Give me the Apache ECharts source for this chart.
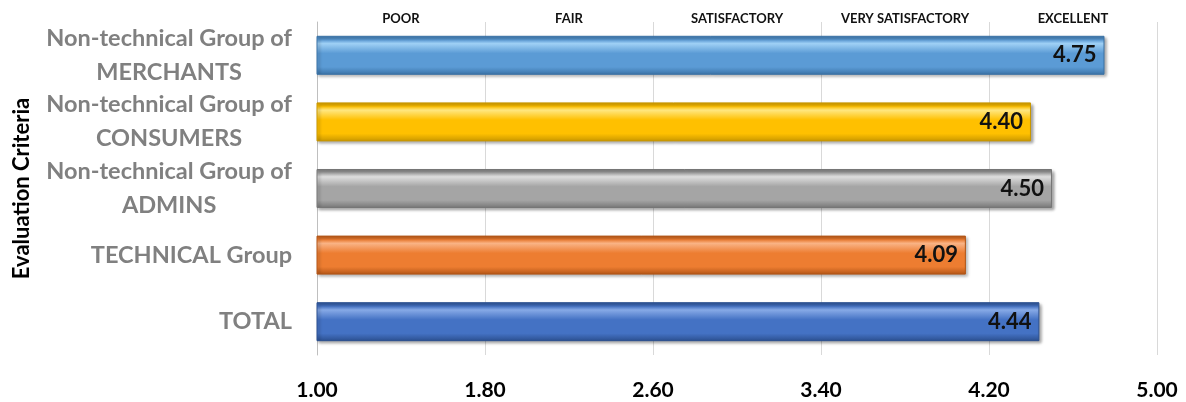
<!DOCTYPE html>
<html><head><meta charset="utf-8">
<script src="https://cdn.jsdelivr.net/npm/echarts@6/dist/echarts.min.js"></script>
<style>html,body{margin:0;padding:0;background:#fff}#c{width:1186px;height:402px}</style>
</head><body><div id="c"></div>
<script>
const categories = ["Non-technical Group of\nMERCHANTS","Non-technical Group of\nCONSUMERS","Non-technical Group of\nADMINS","TECHNICAL Group","TOTAL"];
const values = [4.75, 4.40, 4.50, 4.09, 4.44];
const barColors = [
  ["#9fd0f5","#5b9bd5","#3a72a6"],
  ["#ffe780","#ffc000","#c99700"],
  ["#dedede","#a5a5a5","#767676"],
  ["#f9b385","#ed7d31","#b35516"],
  ["#86a9e6","#4472c4","#2b4f8f"]
];
const ratingLabels = ["POOR","FAIR","SATISFACTORY","VERY SATISFACTORY","EXCELLENT"];
const axisName = "Evaluation Criteria";

const data = values.map((v,i)=>({
  value: v,
  itemStyle: {
    color: {type:'linear',x:0,y:0,x2:0,y2:1,colorStops:[
      {offset:0,color:barColors[i][2]},
      {offset:0.1,color:barColors[i][1]},
      {offset:0.2,color:barColors[i][0]},
      {offset:0.45,color:barColors[i][1]},
      {offset:0.8,color:barColors[i][1]},
      {offset:1,color:barColors[i][2]}
    ]},
    borderColor: barColors[i][2],
    borderWidth: 1,
    shadowColor:'rgba(0,0,0,0.35)', shadowBlur:3, shadowOffsetX:2, shadowOffsetY:2
  }
}));

const chart = echarts.init(document.getElementById('c'));
chart.setOption({
  animation:false,
  grid:{left:317,right:29,top:22,bottom:47,containLabel:false},
  xAxis:[{
    type:'value', min:1, max:5, interval:0.8,
    axisLine:{show:false}, axisTick:{show:false},
    splitLine:{show:true,lineStyle:{color:'#d9d9d9',width:1}},
    axisLabel:{formatter:v=>v.toFixed(2),color:'#000',fontFamily:'Lato',fontWeight:'bold',fontSize:21,margin:25}
  },{
    type:'category', position:'top', data:ratingLabels, boundaryGap:true,
    axisLine:{show:false}, axisTick:{show:false}, splitLine:{show:false},
    axisLabel:{color:'#111',fontFamily:'Lato',fontWeight:'bold',fontSize:13,margin:-3}
  }],
  yAxis:{
    type:'category', data:categories, inverse:true,
    name:axisName, nameLocation:'middle', nameRotate:90, nameGap:284,
    nameTextStyle:{color:'#000',fontFamily:'Lato',fontWeight:'bold',fontSize:22},
    axisLine:{show:true,lineStyle:{color:'#bfbfbf'}}, axisTick:{show:false},
    axisLabel:{margin:25,
      formatter:v=>'{a|'+v+'}',
      rich:{a:{align:'center',color:'#808080',fontFamily:'Lato',fontWeight:'bold',fontSize:23.5,lineHeight:34}}
    }
  },
  series:[{
    type:'bar', data:data, barWidth:39, xAxisIndex:0,
    label:{show:true,position:'insideRight',distance:8,formatter:p=>p.value.toFixed(2),
      color:'#111',fontFamily:'Lato',fontWeight:'bold',fontSize:22}
  }]
});
</script></body></html>
